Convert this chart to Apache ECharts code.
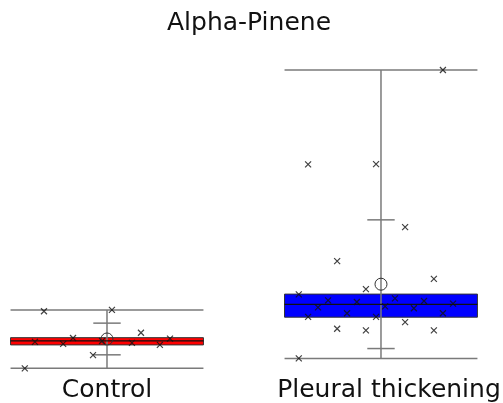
<!DOCTYPE html>
<html>
<head>
<meta charset="utf-8">
<script src="https://cdn.jsdelivr.net/npm/echarts@6/dist/echarts.min.js"></script>
<style>html,body{margin:0;padding:0;background:#fff}#c{width:503px;height:403px}</style>
</head>
<body>
<div id="c"></div>
<script>
// ---- data (arbitrary units) ----
var title = 'Alpha-Pinene';
var categories = ['Control', 'Pleural thickening'];
var boxColors = ['#ff0000', '#0000ff'];
// per group: [min, q1, median, q3, max]
var boxStats = [
  [0.5, 7.6, 8.8, 9.8, 18.2],
  [3.5, 16.0, 19.9, 23.0, 90.9]
];
var means = [9.4, 26.0];
var sds = [4.8, 19.5];
// individual points: values and horizontal jitter (category units)
var controlValues = [17.8, 18.2, 8.5, 7.9, 9.7, 8.8, 8.2, 11.3, 7.6, 9.5, 4.5, 0.5];
var controlJitter = [-0.23, 0.018, -0.263, -0.16, -0.124, -0.018, 0.091, 0.124, 0.193, 0.23, -0.051, -0.30];
var pleuralValues = [90.9, 62.3, 62.4, 43.3, 33.0, 27.6, 24.5, 22.9, 21.1, 20.6, 21.7, 20.9, 20.1, 19.0, 19.3, 18.7, 17.2, 17.2, 16.1, 16.1, 14.5, 12.5, 12.0, 12.0, 3.5];
var pleuralJitter = [0.226, -0.266, -0.018, 0.088, -0.16, 0.193, -0.055, -0.30, -0.193, -0.088, 0.051, 0.157, 0.263, -0.23, 0.015, 0.12, -0.124, 0.226, -0.266, -0.018, 0.088, -0.16, -0.055, 0.193, -0.30];

var boxHalf = 0.352, sdHalf = 0.05;
var labelShift = [0, 8];

var boxData = boxStats.map(function (s, i) {
  return [i + 1, s[0], s[1], s[2], s[3], s[4], means[i], means[i] - sds[i], means[i] + sds[i]];
});
var pts = [];
controlValues.forEach(function (v, i) { pts.push([1 + controlJitter[i], v]); });
pleuralValues.forEach(function (v, i) { pts.push([2 + pleuralJitter[i], v]); });

function renderBox(params, api) {
  var x = api.value(0), i = params.dataIndex;
  var c = function (xx, yy) { return api.coord([xx, yy]); };
  var lo = api.value(1), q1 = api.value(2), med = api.value(3), q3 = api.value(4), hi = api.value(5);
  var mean = api.value(6), sdl = api.value(7), sdh = api.value(8);
  var tl = c(x - boxHalf, q3), br = c(x + boxHalf, q1);
  var grey = {stroke: '#7a7a7a', lineWidth: 1.5};
  function line(x1, y1, x2, y2, st) {
    var a = c(x1, y1), b = c(x2, y2);
    return {type: 'line', shape: {x1: a[0], y1: a[1], x2: b[0], y2: b[1]}, style: st};
  }
  var m = c(x, mean);
  var base = c(x, 0);
  return {type: 'group', children: [
    {type: 'rect', shape: {x: tl[0], y: tl[1], width: br[0] - tl[0], height: br[1] - tl[1]},
      style: {fill: boxColors[i], stroke: '#333', lineWidth: 1}},
    line(x - boxHalf, hi, x + boxHalf, hi, grey),
    line(x - boxHalf, lo, x + boxHalf, lo, grey),
    line(x, hi, x, lo, grey),
    line(x - boxHalf, med, x + boxHalf, med, {stroke: '#111', lineWidth: 1.2}),
    line(x - sdHalf, sdh, x + sdHalf, sdh, grey),
    line(x - sdHalf, sdl, x + sdHalf, sdl, grey),
    {type: 'circle', shape: {cx: m[0], cy: m[1], r: 6}, style: {fill: 'none', stroke: '#333', lineWidth: 1}},
    {type: 'text', style: {text: categories[i], x: base[0] + labelShift[i], y: base[1] + 8,
      align: 'center', verticalAlign: 'top', fontSize: 25, fontFamily: 'DejaVu Sans', fill: '#111'}}
  ]};
}

var chart = echarts.init(document.getElementById('c'), null, {renderer: 'canvas'});
chart.setOption({
  animation: false,
  backgroundColor: '#fff',
  title: {text: title, left: 244, top: 6, textAlign: 'center',
    textStyle: {fontFamily: 'DejaVu Sans', fontWeight: 'normal', fontSize: 25, color: '#111'}},
  grid: {left: 0, right: 0, top: 40, bottom: 33},
  xAxis: {type: 'value', min: 0.6095, max: 2.4453, show: false},
  yAxis: {type: 'value', min: 0, max: 100, show: false},
  series: [
    {type: 'custom', renderItem: renderBox, data: boxData, z: 2, clip: false,
      encode: {x: 0, y: [1, 2, 3, 4, 5, 6, 7, 8]}},
    {type: 'scatter', data: pts, z: 5, symbol: 'path://M0,0L10,10M10,0L0,10', symbolSize: 6,
      itemStyle: {color: 'none', borderColor: '#111', borderWidth: 1.2}}
  ]
});
</script>
</body>
</html>
